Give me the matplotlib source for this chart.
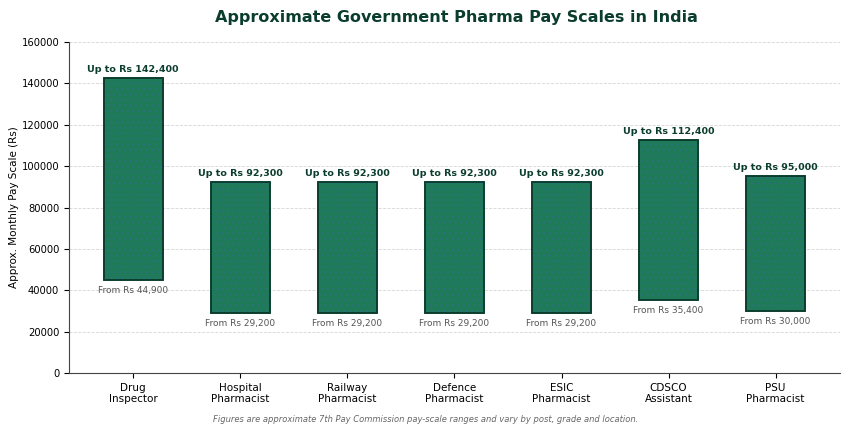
import numpy as np
import matplotlib
matplotlib.use("Agg")
import matplotlib.pyplot as plt

roles = ["Drug\nInspector", "Hospital\nPharmacist", "Railway\nPharmacist", "Defence\nPharmacist",
         "ESIC\nPharmacist", "CDSCO\nAssistant", "PSU\nPharmacist"]
pay_min = [44900, 29200, 29200, 29200, 29200, 35400, 30000]
pay_max = [142400, 92300, 92300, 92300, 92300, 112400, 95000]

fill = "#1f7a5a"
dark = "#0b3d2e"

fig = plt.figure(figsize=(8.51, 4.26), dpi=100)
ax = fig.add_axes([0.081, 0.1244, 0.906, 0.777])

x = np.arange(len(roles))
lo = np.array(pay_min)
hi = np.array(pay_max)

ax.bar(x, hi - lo, bottom=lo, width=0.55, color=fill, edgecolor=dark, linewidth=1.2, zorder=3)
# dotted texture over the bars
plt.rcParams['hatch.linewidth'] = 0.5
ax.bar(x, hi - lo, bottom=lo, width=0.55, facecolor="none", edgecolor="#3b6aa8",
       linewidth=0, hatch="...", alpha=0.45, zorder=4)
ax.bar(x, hi - lo, bottom=lo, width=0.55, facecolor="none", edgecolor=dark, linewidth=1.2, zorder=5)

for i in range(len(roles)):
    ax.annotate("Up to Rs {:,}".format(pay_max[i]), (x[i], pay_max[i]), xytext=(0, 3),
                textcoords="offset points", ha="center", va="bottom",
                fontsize=6.8, fontweight="bold", color=dark)
    ax.annotate("From Rs {:,}".format(pay_min[i]), (x[i], pay_min[i]), xytext=(0, -4.5),
                textcoords="offset points", ha="center", va="top",
                fontsize=6.5, color="#555555")

ax.set_xlim(-0.6, len(roles) - 0.4)
ax.set_ylim(0, 160000)
ax.set_yticks(np.arange(0, 160001, 20000))
ax.set_xticks(x)
ax.set_xticklabels(roles, fontsize=7.5)
ax.tick_params(axis="y", labelsize=7.2)
ax.set_ylabel("Approx. Monthly Pay Scale (Rs)", fontsize=7.5, labelpad=2)

ax.grid(axis="y", color="#cccccc", linestyle="--", linewidth=0.6, alpha=0.8, zorder=0)
ax.set_axisbelow(True)
ax.spines["top"].set_visible(False)
ax.spines["right"].set_visible(False)
ax.spines["left"].set_color("#444444")
ax.spines["bottom"].set_color("#444444")

fig.text(0.536, 0.96, "Approximate Government Pharma Pay Scales in India", ha="center", va="center",
         fontsize=11.5, fontweight="bold", color=dark)
fig.text(0.5, 0.016, "Figures are approximate 7th Pay Commission pay-scale ranges and vary by post, grade and location.",
         ha="center", va="center", fontsize=6, style="italic", color="#666666")

fig.savefig("out.png", dpi=100)
